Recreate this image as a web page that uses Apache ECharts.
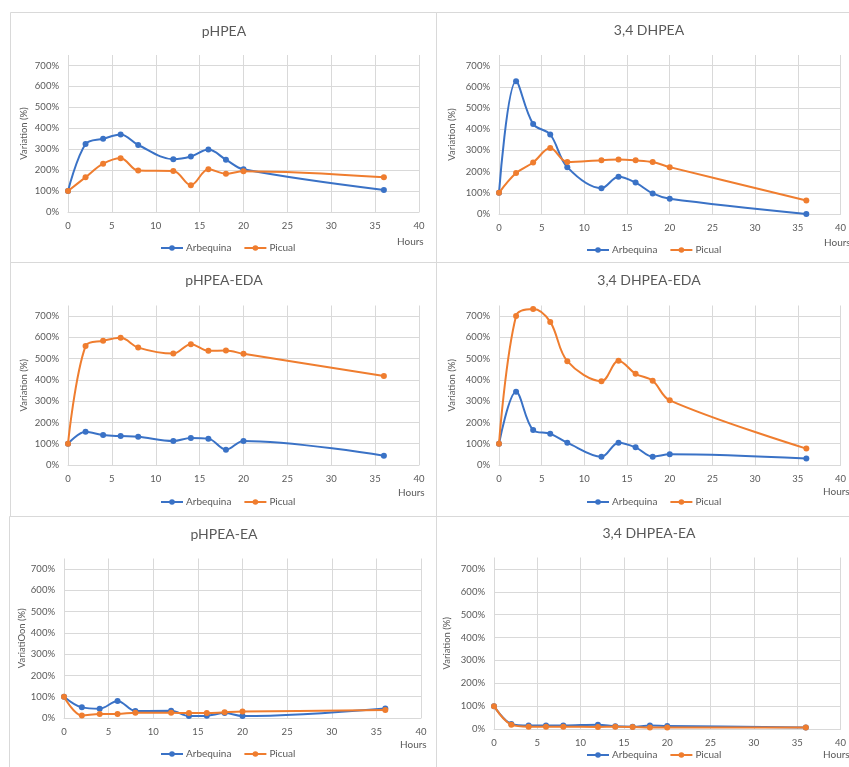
<!DOCTYPE html>
<html>
<head>
<meta charset="utf-8">
<script src="https://cdn.jsdelivr.net/npm/echarts@6/dist/echarts.min.js"></script>
<style>
html,body{margin:0;padding:0;background:#fff;}
#chart{width:849px;height:767px;}
</style>
</head>
<body>
<div id="chart"></div>
<script>
// ---- data ----
const hours = [0, 2, 4, 6, 8, 12, 14, 16, 18, 20, 36];
const seriesNames = ['Arbequina', 'Picual'];
const xTicks = [0, 5, 10, 15, 20, 25, 30, 35, 40];
const yTicks = [0, 100, 200, 300, 400, 500, 600, 700];

const panelTitles = ['pHPEA', '3,4 DHPEA', 'pHPEA-EDA', '3,4 DHPEA-EDA', 'pHPEA-EA', '3,4 DHPEA-EA'];
const yAxisNames = ['Variation (%)', 'Variation (%)', 'Variation (%)', 'Variation (%)', 'VariatiOon (%)', 'Variation (%)'];
const xAxisName = 'Hours';

const pHPEA_arbequina = [100, 325, 350, 370, 320, 252, 265, 298, 250, 204, 105];
const pHPEA_picual = [100, 166, 231, 257, 198, 196, 128, 204, 183, 195, 166];
const DHPEA_arbequina = [100, 626, 424, 375, 221, 122, 176, 148, 97, 72, 0];
const DHPEA_picual = [100, 193, 243, 311, 245, 254, 257, 253, 245, 221, 64];
const pHPEA_EDA_arbequina = [100, 156, 141, 136, 133, 113, 127, 124, 72, 113, 44];
const pHPEA_EDA_picual = [100, 559, 584, 598, 552, 524, 568, 537, 538, 523, 418];
const DHPEA_EDA_arbequina = [100, 344, 164, 147, 105, 39, 105, 83, 39, 50, 30];
const DHPEA_EDA_picual = [100, 701, 734, 673, 488, 394, 490, 429, 396, 304, 77];
const pHPEA_EA_arbequina = [100, 50, 44, 80, 33, 34, 9, 11, 23, 9, 45];
const pHPEA_EA_picual = [100, 12, 19, 19, 25, 25, 23, 23, 27, 30, 38];
const DHPEA_EA_arbequina = [100, 22, 15, 15, 15, 19, 12, 10, 15, 13, 7];
const DHPEA_EA_picual = [100, 19, 10, 10, 10, 9, 10, 9, 7, 7, 7];

const panelData = [
  [pHPEA_arbequina, pHPEA_picual],
  [DHPEA_arbequina, DHPEA_picual],
  [pHPEA_EDA_arbequina, pHPEA_EDA_picual],
  [DHPEA_EDA_arbequina, DHPEA_EDA_picual],
  [pHPEA_EA_arbequina, pHPEA_EA_picual],
  [DHPEA_EA_arbequina, DHPEA_EA_picual]
];

// ---- layout / style ----
const FONT = 'Lato, "Open Sans", sans-serif';
const TXT = '#595959';
const GRIDC = '#d9d9d9';
const COLORS = ['#3a72c6', '#ef7d2f'];
const Y_MAX = 750;

const layout = [
  {grid:{left:68, top:55, width:351, height:157}, title:[224,24], legend:[160,243], hours:[397,237], nameGap:39, box:[10.5,12.5,426,250]},
  {grid:{left:499, top:55, width:345, height:159}, title:[649,23], legend:[586,245], hours:[824,238], nameGap:42, box:[436.5,12.5,420,250]},
  {grid:{left:68, top:305.5, width:351, height:159.5}, title:[224,273], legend:[160,497], hours:[398,488], nameGap:39, box:[10.5,262.5,426,254]},
  {grid:{left:499, top:305.5, width:345, height:159.5}, title:[649,273], legend:[586,497], hours:[823,487], nameGap:42, box:[436.5,262.5,420,254]},
  {grid:{left:64, top:558.5, width:357, height:159.5}, title:[224,527], legend:[160,749], hours:[400,740], nameGap:35, box:[9.5,516.5,427,260]},
  {grid:{left:494, top:557.5, width:350, height:171.5}, title:[649,526], legend:[586,750], hours:[823,750], nameGap:42, box:[436.5,516.5,420,260]}
];

const option = {
  animation: false,
  backgroundColor: '#ffffff',
  color: COLORS,
  textStyle: {fontFamily: FONT},
  title: [],
  legend: [],
  grid: [],
  xAxis: [],
  yAxis: [],
  series: [],
  graphic: []
};

layout.forEach((L, i) => {
  option.graphic.push({
    type: 'rect', silent: true, z: -10,
    shape: {x: L.box[0], y: L.box[1], width: L.box[2], height: L.box[3]},
    style: {fill: 'none', stroke: GRIDC, lineWidth: 1}
  });
  option.title.push({
    text: panelTitles[i], left: L.title[0], top: L.title[1], textAlign: 'center', padding: 0,
    textStyle: {fontFamily: FONT, fontSize: 14, fontWeight: 'normal', color: TXT}
  });
  option.title.push({
    text: xAxisName, left: L.hours[0], top: L.hours[1], padding: 0,
    textStyle: {fontFamily: FONT, fontSize: 10, fontWeight: 'normal', color: TXT}
  });
  option.legend.push({
    data: seriesNames, left: L.legend[0], top: L.legend[1], padding: 0,
    itemGap: 12, itemWidth: 22, itemHeight: 7,
    textStyle: {fontFamily: FONT, fontSize: 10, color: TXT, padding: [0,0,0,-2]},
    selectedMode: false
  });
  option.grid.push(Object.assign({containLabel: false}, L.grid));
  option.xAxis.push({
    type: 'value', gridIndex: i, min: xTicks[0], max: xTicks[xTicks.length - 1], interval: 5,
    axisLine: {show: true, lineStyle: {color: GRIDC, width: 1}},
    axisTick: {show: false},
    axisLabel: {color: TXT, fontSize: 9.5, fontFamily: FONT, margin: 9},
    splitLine: {show: true, lineStyle: {color: GRIDC, width: 1}}
  });
  option.yAxis.push({
    type: 'value', gridIndex: i, min: yTicks[0], max: Y_MAX, interval: 100,
    name: yAxisNames[i], nameLocation: 'middle', nameGap: L.nameGap,
    nameTextStyle: {color: TXT, fontSize: 9.5, fontFamily: FONT},
    axisLine: {show: false},
    axisTick: {show: false},
    axisLabel: {color: TXT, fontSize: 9.5, fontFamily: FONT, margin: 9,
      formatter: v => (v > yTicks[yTicks.length - 1] ? '' : v + '%')},
    splitLine: {show: true, showMaxLine: false, lineStyle: {color: GRIDC, width: 1}}
  });
  panelData[i].forEach((vals, k) => {
    option.series.push({
      name: seriesNames[k], type: 'line', xAxisIndex: i, yAxisIndex: i,
      data: hours.map((h, j) => [h, vals[j]]),
      smooth: 0.35,
      symbol: 'circle', symbolSize: 6,
      lineStyle: {width: 2, color: COLORS[k]},
      itemStyle: {color: COLORS[k]},
      z: 2 + k
    });
  });
});

const chart = echarts.init(document.getElementById('chart'), null, {renderer: 'canvas'});
chart.setOption(option);
</script>
</body>
</html>
